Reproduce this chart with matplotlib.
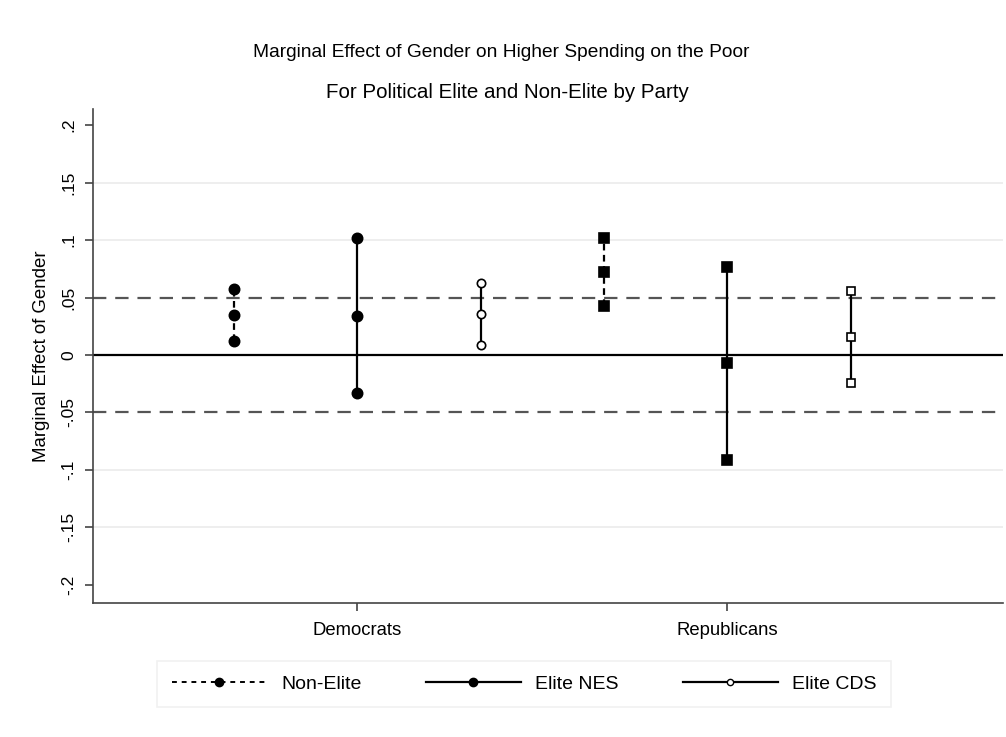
import numpy as np
import matplotlib.pyplot as plt
from matplotlib.lines import Line2D

plt.rcParams['font.family'] = ['Liberation Sans', 'DejaVu Sans']

parties = ['Democrats', 'Republicans']

# estimates and 95% bounds
nonelite_est = [0.035, 0.072]
nonelite_lo = [0.012, 0.043]
nonelite_hi = [0.057, 0.102]

nes_est = [0.034, -0.007]
nes_lo = [-0.033, -0.091]
nes_hi = [0.102, 0.077]

cds_est = [0.036, 0.016]
cds_lo = [0.009, -0.024]
cds_hi = [0.063, 0.056]

fig = plt.figure(figsize=(10.06, 7.37), dpi=100)
ax = fig.add_axes([0.0924, 0.182, 0.905, 0.670])

xpos = np.arange(1, len(parties) + 1)
offset = 1 / 3

# reference lines
for g in [-0.15, -0.1, 0.1, 0.15]:
    ax.axhline(g, color='#ebebeb', lw=1.2, zorder=0)
ax.axhline(0, color='black', lw=1.6, zorder=1)
for g in [-0.05, 0.05]:
    ax.axhline(g, color='#555555', lw=1.6, ls=(0, (6, 4)), zorder=1)

groups = [
    (xpos - offset, nonelite_est, nonelite_lo, nonelite_hi, (0, (3, 2)), 'full'),
    (xpos, nes_est, nes_lo, nes_hi, '-', 'full'),
    (xpos + offset, cds_est, cds_lo, cds_hi, '-', 'none'),
]
markers = ['o', 's']
sizes_full = [7.4, 6.8]
sizes_open = [6.0, 6.0]

for xs, est, lo, hi, ls, fill in groups:
    for i, x in enumerate(xs):
        ax.plot([x, x], [lo[i], hi[i]], color='black', lw=1.6, ls=ls, zorder=2)
        ms = sizes_full[i] if fill == 'full' else sizes_open[i]
        ax.plot([x, x, x], [lo[i], est[i], hi[i]], ls='none', marker=markers[i],
                ms=ms, mfc='black' if fill == 'full' else 'white',
                mec='black', mew=1.2, zorder=3)

ax.set_xlim(0.286, 2.746)
ax.set_ylim(-0.2157, 0.214)
ax.set_xticks(xpos)
ax.set_xticklabels(parties, fontsize=13.3)
yt = [-0.2, -0.15, -0.1, -0.05, 0, 0.05, 0.1, 0.15, 0.2]
ax.set_yticks(yt)
ax.set_yticklabels(['-.2', '-.15', '-.1', '-.05', '0', '.05', '.1', '.15', '.2'],
                   rotation=90, va='center', fontsize=12.5)
ax.tick_params(axis='both', length=6, width=1.2, color='#444444')
ax.tick_params(axis='x', pad=8)
ax.tick_params(axis='y', pad=6)
for side in ['top', 'right']:
    ax.spines[side].set_visible(False)
for side in ['left', 'bottom']:
    ax.spines[side].set_color('#444444')
    ax.spines[side].set_linewidth(1.2)

ax.set_ylabel('Marginal Effect of Gender', fontsize=13.4, labelpad=8)

fig.text(0.498, 0.929, 'Marginal Effect of Gender on Higher Spending on the Poor',
         ha='center', va='center', fontsize=13.8)
fig.text(0.504, 0.875, 'For Political Elite and Non-Elite by Party',
         ha='center', va='center', fontsize=14.8)

handles = [
    Line2D([], [], color='black', lw=1.4, ls=(0, (2.5, 2.5)), marker='o', ms=6, mfc='black', mec='black'),
    Line2D([], [], color='black', lw=1.6, ls='-', marker='o', ms=6, mfc='black', mec='black'),
    Line2D([], [], color='black', lw=1.6, ls='-', marker='o', ms=4.5, mfc='white', mec='black'),
]
leg = fig.legend(handles, ['Non-Elite', 'Elite NES', 'Elite CDS'], loc='center',
                 bbox_to_anchor=(0.521, 0.072), ncol=3, fontsize=14, frameon=True,
                 fancybox=False, edgecolor='#eeeeee', handlelength=4.9,
                 columnspacing=3.3, handletextpad=0.72, borderpad=0.75)
leg.get_frame().set_linewidth(1.2)

fig.savefig('out.png', dpi=100)
